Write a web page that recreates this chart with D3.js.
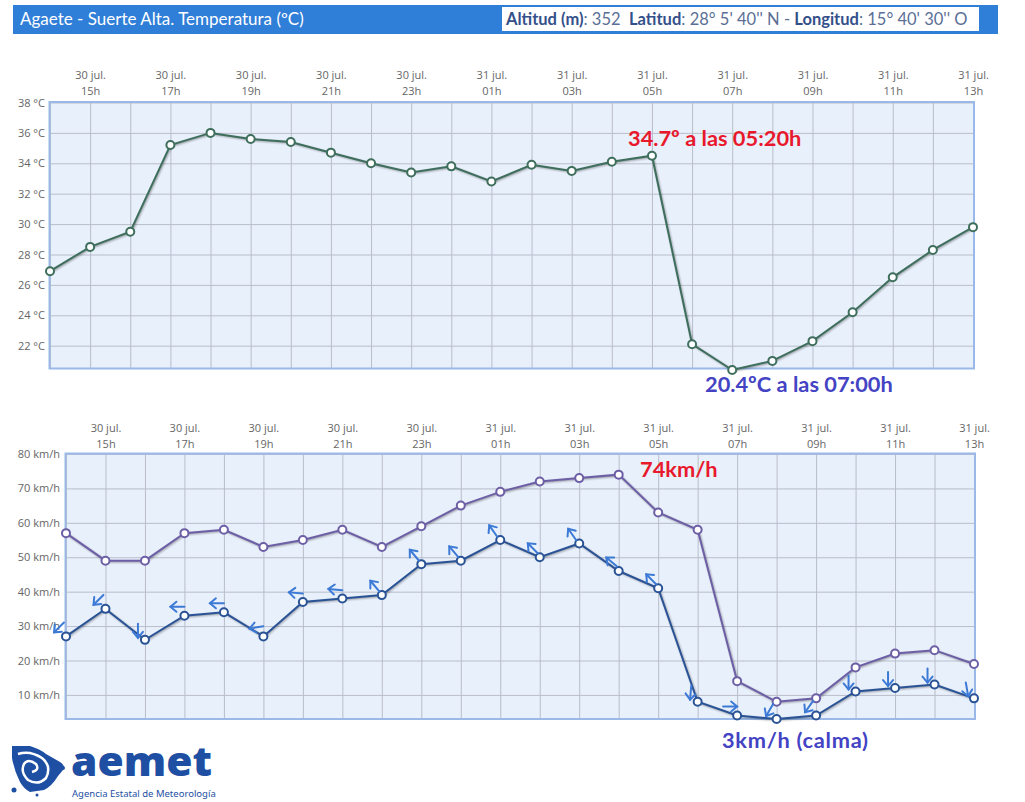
<!DOCTYPE html>
<html><head><meta charset="utf-8">
<script src="https://cdn.jsdelivr.net/npm/d3@7"></script>
<style>
html,body{margin:0;padding:0;background:#fff;}
svg{display:block;}
</style></head>
<body>
<svg id="c" width="1025" height="802"></svg>
<script>
// ---------- DATA ----------
const dates = ["30 jul.","30 jul.","30 jul.","30 jul.","30 jul.","30 jul.","30 jul.","30 jul.","30 jul.","30 jul.",
               "31 jul.","31 jul.","31 jul.","31 jul.","31 jul.","31 jul.","31 jul.","31 jul.","31 jul.","31 jul.","31 jul.","31 jul.","31 jul.","31 jul."];
const hours = ["14h","15h","16h","17h","18h","19h","20h","21h","22h","23h",
               "00h","01h","02h","03h","04h","05h","06h","07h","08h","09h","10h","11h","12h","13h"];
const temps = [26.9,28.5,29.5,35.2,36.0,35.6,35.4,34.7,34.0,33.4,33.8,32.8,33.9,33.5,34.1,34.5,22.1,20.4,21.0,22.3,24.2,26.5,28.3,29.8];
const gusts = [57,49,49,57,58,53,55,58,53,59,65,69,72,73,74,63,58,14,8,9,18,22,23,19];
const winds = [27,35,26,33,34,27,37,38,39,48,49,55,50,54,46,41,8,4,3,4,11,12,13,9];
// wind direction (degrees the wind comes from)
const windDirs = [45,45,0,90,90,80,95,95,140,140,140,145,135,145,130,135,5,270,30,35,0,0,0,350];
const tickHours = ["15h","17h","19h","21h","23h","01h","03h","05h","07h","09h","11h","13h"];
const tempTicks = [22,24,26,28,30,32,34,36,38];
const windTicks = [10,20,30,40,50,60,70,80];

const cats = hours.map((h,i)=>dates[i]+"|"+h);
const tickCats = cats.filter(c=>tickHours.includes(c.split("|")[1]));

const svg = d3.select("#c");
const FONT = "'Open Sans', 'Noto Sans', sans-serif";

// ---------- HEADER ----------
svg.append("rect").attr("x",13).attr("y",5).attr("width",985).attr("height",29).attr("fill","#2f7ed8");
svg.append("text").attr("x",20).attr("y",25).attr("fill","#fff")
  .style("font-family","Lato, sans-serif").style("font-size","17px")
  .text("Agaete - Suerte Alta. Temperatura (ºC)");
svg.append("rect").attr("x",502).attr("y",7).attr("width",477).attr("height",24).attr("fill","#fff");
const info = svg.append("text").attr("x",506).attr("y",24.5)
  .style("font-family","Lato, sans-serif").style("font-size","16.5px").style("white-space","pre");
const infoParts = [["Altitud (m)",true],[": 352  ",false],["Latitud",true],[": 28° 5' 40'' N - ",false],["Longitud",true],[": 15° 40' 30'' O",false]];
infoParts.forEach(([t,b])=>info.append("tspan").text(t)
  .attr("fill", b ? "#34508a" : "#5b6f96")
  .style("font-weight", b ? "bold" : "normal"));

// ---------- CHART BUILDER ----------
function panel(cfg){
  const g = svg.append("g");
  const x = d3.scalePoint().domain(cats).range(cfg.xr);
  const y = d3.scaleLinear().domain(cfg.yd).range(cfg.yr);
  const x0 = cfg.xr[0]-0.5, x1 = cfg.xr[1]+1, y0 = cfg.yr[1]-0.5, y1 = cfg.yr[0];
  g.append("rect").attr("x",x0).attr("y",y0).attr("width",x1-x0).attr("height",y1-y0).attr("fill","#e8f0fb");
  // vertical grid
  g.append("g").attr("transform",`translate(0,${y1})`)
    .call(d3.axisBottom(x).tickSize(-(y1-y0)).tickFormat(""))
    .call(s=>{s.select(".domain").remove(); s.selectAll("line").attr("stroke","#b9bdca");});
  // horizontal grid + y labels
  g.append("g").attr("transform",`translate(${x0},0)`)
    .call(d3.axisLeft(y).tickValues(cfg.yTicks).tickSize(-(x1-x0)).tickPadding(5).tickFormat(cfg.yFmt))
    .call(s=>{s.select(".domain").remove(); s.selectAll("line").attr("stroke","#b9bdca");
      s.selectAll("text").attr("fill","#666").style("font-family",FONT).style("font-size","11px").attr("x",cfg.yLabX-x0);});
  // border
  g.append("rect").attr("x",x0).attr("y",y0).attr("width",x1-x0).attr("height",y1-y0)
    .attr("fill","none").attr("stroke","#9ab9e8").attr("stroke-width",2);
  // x labels (top)
  const xa = g.append("g").attr("transform",`translate(0,${cfg.labY})`)
    .call(d3.axisTop(x).tickValues(tickCats).tickSize(0).tickFormat(""));
  xa.select(".domain").remove();
  xa.selectAll(".tick").each(function(d){
    const [dt,h] = d.split("|");
    const t = d3.select(this).append("text").attr("fill","#666").attr("text-anchor","middle")
      .style("font-family",FONT).style("font-size","11px");
    t.append("tspan").attr("x",0).attr("y",0).text(dt);
    t.append("tspan").attr("x",0).attr("y",16).text(h);
  });
  return {g,x,y};
}

function series(p, vals, color){
  const line = d3.line().x((d,i)=>p.x(cats[i])).y(d=>p.y(d));
  // shadow
  [5,3,1].forEach((w,k)=>p.g.append("path").datum(vals).attr("d",line).attr("fill","none")
    .attr("stroke","#000").attr("stroke-opacity",0.05*(k+1)).attr("stroke-width",w)
    .attr("transform","translate(1,1)"));
  p.g.append("path").datum(vals).attr("d",line).attr("fill","none").attr("stroke",color).attr("stroke-width",2);
  p.g.selectAll(null).data(vals).enter().append("circle")
    .attr("cx",(d,i)=>p.x(cats[i])).attr("cy",d=>p.y(d)).attr("r",4)
    .attr("fill","#fff").attr("stroke",color).attr("stroke-width",2);
}

// ---------- TEMPERATURE ----------
const pT = panel({xr:[50,973], yd:[20.5,38], yr:[368.5,102.5], yTicks:tempTicks, yFmt:d=>d+" °C", yLabX:45, labY:79});
series(pT, temps, "#3e6e5c");

// ---------- WIND ----------
const pW = panel({xr:[66,974], yd:[3,80], yr:[719,454], yTicks:windTicks, yFmt:d=>d+" km/h", yLabX:60, labY:432});
series(pW, gusts, "#6c5fa6");
series(pW, winds, "#2a5396");

// wind arrows (pointing where the wind goes)
const arrowG = pW.g.append("g");
winds.forEach((v,i)=>{
  const cx = pW.x(cats[i]) - 7, cy = pW.y(v) - 9;
  const a = arrowG.append("g").attr("transform",`translate(${cx},${cy}) rotate(${windDirs[i]})`)
    .attr("stroke","#3c7ad6").attr("stroke-width",2).attr("fill","none").attr("stroke-linecap","round");
  a.append("line").attr("x1",0).attr("y1",-7).attr("x2",0).attr("y2",7);
  a.append("path").attr("d","M-5,1 L0,7 L5,1");
});

// ---------- ANNOTATIONS ----------
const ann = svg.append("g").style("font-family","Lato, sans-serif").style("font-weight","bold").style("font-size","21.8px");
ann.append("text").attr("x",628).attr("y",146).attr("fill","#e8192c").text("34.7º a las 05:20h");
ann.append("text").attr("x",705).attr("y",392).attr("fill","#4343c4").text("20.4ºC a las 07:00h");
ann.append("text").attr("x",640).attr("y",477).attr("fill","#e8192c").text("74km/h");
ann.append("text").attr("x",722).attr("y",748).attr("fill","#4343c4").attr("textLength",146).text("3km/h (calma)");

// ---------- LOGO ----------
const logo = svg.append("g").attr("fill","#1e4fa3");
logo.append("path").attr("d","M12,746 L30,746 Q40,749 46,754 L60,762 Q66,766 63,770 L58,776 Q52,786 44,790 L30,792 Q24,789 20,782 Q14,770 12,758 Z");
logo.append("path").attr("d","M18,754 Q30,750 42,758 Q52,766 46,778 Q38,786 28,780 Q20,772 24,764 Q28,758 36,764 Q40,770 32,772")
  .attr("fill","none").attr("stroke","#fff").attr("stroke-width",2.5);
logo.append("circle").attr("cx",14).attr("cy",790).attr("r",2.5);
logo.append("circle").attr("cx",37).attr("cy",795).attr("r",1.5);
logo.append("circle").attr("cx",63).attr("cy",768).attr("r",2);
logo.append("text").attr("x",71).attr("y",776).style("font-family","'Noto Sans', sans-serif")
  .style("font-weight","900").style("font-size","40px")
  .attr("textLength",141).attr("lengthAdjust","spacingAndGlyphs").text("aemet");
logo.append("text").attr("x",72).attr("y",797).style("font-family","'Noto Sans', sans-serif")
  .style("font-size","9.5px").text("Agencia Estatal de Meteorología");
</script>
</body></html>
